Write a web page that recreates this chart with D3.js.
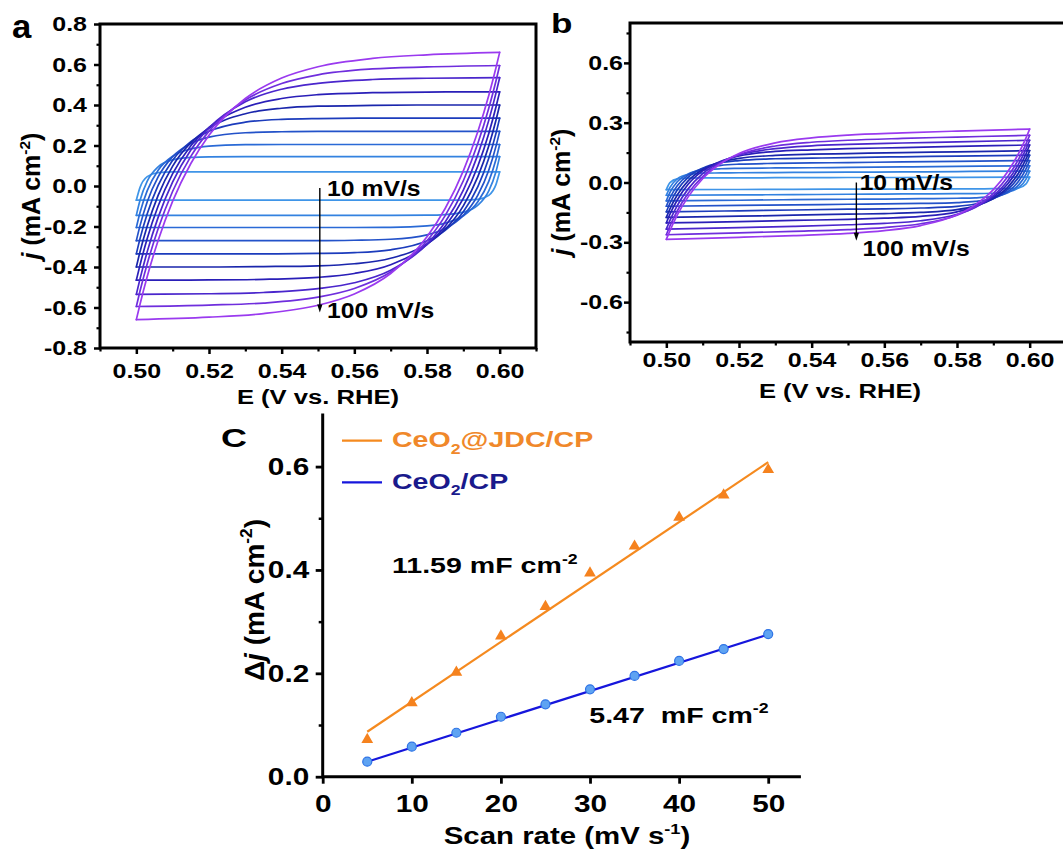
<!DOCTYPE html>
<html>
<head>
<meta charset="utf-8">
<script src="https://cdn.jsdelivr.net/npm/d3@7"></script>
<style>
  html, body { margin: 0; padding: 0; background: #fff; }
  svg { display: block; font-family: "Liberation Sans", Arial, Helvetica, sans-serif; }
</style>
</head>
<body>
<svg id="fig" width="1063" height="855"></svg>
<script>
// ---------- CV sweeps (panels a and b) ----------
const potentialDomain = [0.49, 0.61];
const potentialFwd = [0.500, 0.501, 0.503, 0.506, 0.510, 0.515, 0.520, 0.530, 0.540, 0.550, 0.565, 0.580, 0.600];
const potentialRev = [0.600, 0.599, 0.597, 0.594, 0.590, 0.585, 0.580, 0.570, 0.560, 0.550, 0.535, 0.520, 0.500];
const scanRatesCV = [10, 20, 30, 40, 50, 60, 70, 80, 90, 100];
const cvColors = ['#3f95e8', '#3382e0', '#2a6ad6', '#2352c9', '#1c3cbc', '#1a26ac', '#2a1fb8', '#4a26cc', '#6f2edd', '#9a3aef'];

// panel a: CeO2@JDC/CP, current density (mA cm^-2)
const cvA_anodic = [
  [-0.070, -0.008, 0.046, 0.066, 0.070, 0.070, 0.070, 0.070, 0.070, 0.070, 0.070, 0.070, 0.070],
  [-0.145, -0.072, 0.024, 0.095, 0.129, 0.141, 0.144, 0.145, 0.145, 0.145, 0.145, 0.145, 0.145],
  [-0.205, -0.132, -0.023, 0.078, 0.147, 0.183, 0.197, 0.204, 0.205, 0.205, 0.205, 0.205, 0.205],
  [-0.270, -0.197, -0.078, 0.045, 0.145, 0.210, 0.241, 0.263, 0.268, 0.270, 0.270, 0.270, 0.270],
  [-0.335, -0.261, -0.137, 0.003, 0.127, 0.219, 0.270, 0.315, 0.329, 0.333, 0.335, 0.335, 0.335],
  [-0.400, -0.326, -0.198, -0.046, 0.098, 0.214, 0.286, 0.357, 0.384, 0.394, 0.398, 0.400, 0.400],
  [-0.465, -0.391, -0.259, -0.099, 0.061, 0.199, 0.290, 0.389, 0.432, 0.451, 0.461, 0.464, 0.465],
  [-0.535, -0.460, -0.324, -0.155, 0.020, 0.178, 0.287, 0.416, 0.478, 0.507, 0.526, 0.532, 0.535],
  [-0.595, -0.520, -0.384, -0.211, -0.026, 0.146, 0.271, 0.425, 0.506, 0.549, 0.578, 0.588, 0.595],
  [-0.660, -0.585, -0.447, -0.269, -0.075, 0.111, 0.251, 0.432, 0.533, 0.589, 0.630, 0.648, 0.660]
];
const cvA_cathodic = [
  [0.070, 0.008, -0.046, -0.066, -0.070, -0.070, -0.070, -0.070, -0.070, -0.070, -0.070, -0.070, -0.070],
  [0.145, 0.072, -0.024, -0.095, -0.129, -0.141, -0.144, -0.145, -0.145, -0.145, -0.145, -0.145, -0.145],
  [0.205, 0.132, 0.023, -0.078, -0.147, -0.183, -0.197, -0.204, -0.205, -0.205, -0.205, -0.205, -0.205],
  [0.270, 0.197, 0.078, -0.045, -0.145, -0.210, -0.241, -0.263, -0.268, -0.270, -0.270, -0.270, -0.270],
  [0.335, 0.261, 0.137, -0.003, -0.127, -0.219, -0.270, -0.315, -0.329, -0.333, -0.335, -0.335, -0.335],
  [0.400, 0.326, 0.198, 0.046, -0.098, -0.214, -0.286, -0.357, -0.384, -0.394, -0.398, -0.400, -0.400],
  [0.465, 0.391, 0.259, 0.099, -0.061, -0.199, -0.290, -0.389, -0.432, -0.451, -0.461, -0.464, -0.465],
  [0.535, 0.460, 0.324, 0.155, -0.020, -0.178, -0.287, -0.416, -0.478, -0.507, -0.526, -0.532, -0.535],
  [0.595, 0.520, 0.384, 0.211, 0.026, -0.146, -0.271, -0.425, -0.506, -0.549, -0.578, -0.588, -0.595],
  [0.660, 0.585, 0.447, 0.269, 0.075, -0.111, -0.251, -0.432, -0.533, -0.589, -0.630, -0.648, -0.660]
];

// panel b: CeO2/CP
const cvB_anodic = [
  [-0.036, -0.001, 0.018, 0.022, 0.023, 0.023, 0.023, 0.024, 0.024, 0.025, 0.025, 0.026, 0.027],
  [-0.064, -0.024, 0.018, 0.040, 0.047, 0.048, 0.049, 0.050, 0.051, 0.052, 0.053, 0.055, 0.057],
  [-0.092, -0.050, 0.004, 0.043, 0.062, 0.069, 0.071, 0.073, 0.074, 0.076, 0.078, 0.081, 0.084],
  [-0.119, -0.077, -0.016, 0.037, 0.070, 0.086, 0.092, 0.096, 0.098, 0.100, 0.103, 0.106, 0.110],
  [-0.147, -0.104, -0.038, 0.026, 0.072, 0.099, 0.110, 0.119, 0.122, 0.125, 0.129, 0.132, 0.137],
  [-0.175, -0.132, -0.063, 0.008, 0.065, 0.103, 0.121, 0.136, 0.142, 0.145, 0.150, 0.154, 0.160],
  [-0.203, -0.159, -0.088, -0.009, 0.058, 0.106, 0.133, 0.156, 0.164, 0.170, 0.175, 0.181, 0.188],
  [-0.234, -0.190, -0.116, -0.032, 0.045, 0.103, 0.138, 0.170, 0.184, 0.191, 0.198, 0.204, 0.212],
  [-0.262, -0.218, -0.143, -0.054, 0.030, 0.098, 0.140, 0.183, 0.202, 0.212, 0.221, 0.228, 0.237],
  [-0.285, -0.241, -0.164, -0.072, 0.019, 0.095, 0.145, 0.199, 0.224, 0.238, 0.249, 0.258, 0.268]
];
const cvB_cathodic = [
  [0.027, -0.007, -0.027, -0.031, -0.031, -0.032, -0.032, -0.032, -0.033, -0.033, -0.034, -0.035, -0.036],
  [0.057, 0.017, -0.026, -0.047, -0.054, -0.056, -0.056, -0.057, -0.058, -0.059, -0.061, -0.062, -0.064],
  [0.084, 0.042, -0.012, -0.051, -0.070, -0.077, -0.079, -0.081, -0.083, -0.084, -0.086, -0.089, -0.092],
  [0.110, 0.068, 0.007, -0.046, -0.079, -0.095, -0.101, -0.105, -0.107, -0.109, -0.112, -0.115, -0.119],
  [0.137, 0.094, 0.028, -0.035, -0.082, -0.108, -0.120, -0.128, -0.132, -0.134, -0.138, -0.142, -0.147],
  [0.160, 0.118, 0.049, -0.023, -0.080, -0.117, -0.136, -0.150, -0.156, -0.159, -0.164, -0.169, -0.175],
  [0.188, 0.144, 0.073, -0.006, -0.073, -0.121, -0.147, -0.170, -0.179, -0.185, -0.190, -0.196, -0.203],
  [0.212, 0.169, 0.095, 0.010, -0.066, -0.125, -0.159, -0.192, -0.205, -0.212, -0.220, -0.226, -0.234],
  [0.237, 0.194, 0.118, 0.030, -0.054, -0.122, -0.164, -0.207, -0.226, -0.236, -0.245, -0.253, -0.262],
  [0.268, 0.224, 0.147, 0.055, -0.036, -0.112, -0.162, -0.216, -0.241, -0.255, -0.266, -0.275, -0.285]
];

const potentialTicks = [0.50, 0.52, 0.54, 0.56, 0.58, 0.60];
const potentialMinor = [0.49, 0.51, 0.53, 0.55, 0.57, 0.59, 0.61];
const jTicksA = [-0.8, -0.6, -0.4, -0.2, 0.0, 0.2, 0.4, 0.6, 0.8];
const jMinorA = [-0.7, -0.5, -0.3, -0.1, 0.1, 0.3, 0.5, 0.7];
const jTicksB = [-0.6, -0.3, 0.0, 0.3, 0.6];
const jMinorB = [-0.75, -0.45, -0.15, 0.15, 0.45, 0.75];

// ---------- double-layer capacitance (panel c) ----------
const scanRates = [5, 10, 15, 20, 25, 30, 35, 40, 45, 50];
const djJDC = [0.072, 0.143, 0.202, 0.272, 0.329, 0.394, 0.446, 0.502, 0.545, 0.594];
const djCeO2 = [0.029, 0.058, 0.085, 0.116, 0.140, 0.169, 0.195, 0.224, 0.247, 0.276];
const cdlJDC = 11.59, cdlCeO2 = 5.47;           // mF cm^-2
const offsetJDC = 0.029, offsetCeO2 = 0.0017;   // fit intercepts, mA cm^-2
const rateTicks = [0, 10, 20, 30, 40, 50];
const djTicks = [0.0, 0.2, 0.4, 0.6];
const djMinor = [0.1, 0.3, 0.5];

const svg = d3.select('#fig');
const FONT = '"Liberation Sans", Arial, Helvetica, sans-serif';

// text with optional italic / super- / subscript runs; sx widens glyphs horizontally
function addText(parent, x, y, parts, o) {
  const sx = o.sx || 1, size = o.size;
  const tf = o.rotate
    ? `translate(${x},${y}) rotate(-90) scale(1,${sx})`
    : `translate(${x},${y}) scale(${sx},1)`;
  const t = parent.append('text')
    .attr('transform', tf)
    .attr('font-family', FONT)
    .attr('font-size', size)
    .attr('font-weight', 'bold')
    .attr('text-anchor', o.anchor || 'start')
    .attr('fill', o.fill || '#000')
    .style('white-space', 'pre');
  let shift = 0;
  parts.forEach(p => {
    if (typeof p === 'string') p = { t: p };
    const target = p.sup ? -0.42 * size : p.sub ? 0.3 * size : 0;
    const ts = t.append('tspan').text(p.t);
    if (target !== shift) ts.attr('dy', target - shift);
    shift = target;
    if (p.sup || p.sub) ts.attr('font-size', size * 0.62);
    if (p.it) ts.attr('font-style', 'italic');
  });
  return t;
}

function styleAxis(g, size, sx, width) {
  g.select('.domain').remove();
  g.selectAll('line').attr('stroke', '#000').attr('stroke-width', width || 2.5);
  g.selectAll('text')
    .attr('font-family', FONT)
    .attr('font-size', size)
    .attr('font-weight', 'bold')
    .attr('fill', '#000')
    .each(function () {
      const t = d3.select(this);
      const x0 = +t.attr('x') || 0;
      t.attr('x', x0 / sx).attr('transform', `scale(${sx},1)`);
    });
}

function arrowDown(g, x, y1, y2) {
  g.append('line').attr('x1', x).attr('x2', x).attr('y1', y1).attr('y2', y2 - 6)
    .attr('stroke', '#000').attr('stroke-width', 1.4);
  g.append('path')
    .attr('d', `M${x - 2.6},${y2 - 8} L${x + 2.6},${y2 - 8} L${x},${y2} Z`)
    .attr('fill', '#000');
}

function drawCV(p) {
  const g = svg.append('g');
  const x = d3.scaleLinear().domain(potentialDomain).range([p.left, p.right]);
  const y = d3.scaleLinear().domain([-0.8, 0.8]).range([p.bottom, p.top]);

  const line = d3.line().x(d => x(d[0])).y(d => y(d[1])).curve(d3.curveMonotoneX);
  const curves = g.append('g').attr('fill', 'none').attr('stroke-width', 1.7)
    .attr('stroke-linejoin', 'round').attr('stroke-linecap', 'round');
  scanRatesCV.forEach((rate, i) => {
    const fwd = potentialFwd.map((e, k) => [e, p.anodic[i][k]]);
    const rev = potentialRev.map((e, k) => [e, p.cathodic[i][k]]).reverse();
    curves.append('path').attr('d', line(fwd)).attr('stroke', cvColors[i]);
    curves.append('path').attr('d', line(rev)).attr('stroke', cvColors[i]);
  });

  // axes
  const fs = 20.5, sx = 1.22;
  const yMin = g.append('g').attr('transform', `translate(${p.left},0)`)
    .call(d3.axisLeft(y).tickValues(p.yMinor).tickSize(3.5).tickFormat(() => ''));
  styleAxis(yMin, fs, sx, 2.2);
  const yMaj = g.append('g').attr('transform', `translate(${p.left},0)`)
    .call(d3.axisLeft(y).tickValues(p.yTicks).tickSize(6).tickPadding(p.yPad).tickFormat(d => d.toFixed(1)));
  styleAxis(yMaj, fs, sx, 2.5);
  const xMin = g.append('g').attr('transform', `translate(0,${p.bottom})`)
    .call(d3.axisBottom(x).tickValues(potentialMinor).tickSize(3.5).tickFormat(() => ''));
  styleAxis(xMin, fs, sx, 2.2);
  const xMaj = g.append('g').attr('transform', `translate(0,${p.bottom})`)
    .call(d3.axisBottom(x).tickValues(potentialTicks).tickSize(6).tickPadding(p.xPad).tickFormat(d => d.toFixed(2)));
  styleAxis(xMaj, fs, sx, 2.5);

  g.append('rect').attr('x', p.left).attr('y', p.top)
    .attr('width', p.right - p.left).attr('height', p.bottom - p.top)
    .attr('fill', 'none').attr('stroke', '#000').attr('stroke-width', 3);

  // titles
  addText(g, p.xTitleX, p.xTitleY, ['E (V vs. RHE)'], { size: 21, sx: 1.22, anchor: 'middle' });
  addText(g, p.yTitleX, p.yTitleY, [{ t: 'j', it: true }, ' (mA cm', { t: '-2', sup: true }, ')'],
    { size: 25, anchor: 'middle', rotate: true });
  addText(g, p.tagX, p.tagY, [p.tag], { size: p.tagSize, sx: p.tagSx });

  // scan-direction annotation
  arrowDown(g, x(p.arrowE), y(p.arrowFrom), y(p.arrowTo));
  addText(g, x(p.lblE1), y(p.lblJ1), ['10 mV/s'], { size: 21.5, sx: 1.15 });
  addText(g, x(p.lblE2), y(p.lblJ2), ['100 mV/s'], { size: 21.5, sx: 1.15 });
}

drawCV({
  left: 100, right: 536, top: 24, bottom: 348,
  anodic: cvA_anodic, cathodic: cvA_cathodic,
  yTicks: jTicksA, yMinor: jMinorA, yPad: 7, xPad: 9,
  xTitleX: 318, xTitleY: 404, yTitleX: 40, yTitleY: 196,
  tag: 'a', tagX: 12, tagY: 38, tagSize: 33, tagSx: 1.05,
  arrowE: 0.5505, arrowFrom: -0.01, arrowTo: -0.625,
  lblE1: 0.5525, lblJ1: -0.049, lblE2: 0.5525, lblJ2: -0.652
});

drawCV({
  left: 630, right: 1066, top: 23, bottom: 342,
  anodic: cvB_anodic, cathodic: cvB_cathodic,
  yTicks: jTicksB, yMinor: jMinorB, yPad: 1, xPad: 4.5,
  xTitleX: 840, xTitleY: 398, yTitleX: 570, yTitleY: 192,
  tag: 'b', tagX: 551, tagY: 33, tagSize: 27, tagSx: 1.3,
  arrowE: 0.5523, arrowFrom: 0.0, arrowTo: -0.292,
  lblE1: 0.5532, lblJ1: -0.038, lblE2: 0.554, lblJ2: -0.37
});

// ---------- panel c ----------
(function () {
  const g = svg.append('g');
  const x = d3.scaleLinear().domain([0, 53.5]).range([322.7, 799.4]);
  const y = d3.scaleLinear().domain([0, 0.7]).range([776.7, 414.9]);

  // axis lines (left and bottom only)
  g.append('path')
    .attr('d', `M${x(0)},${y(0.7)} L${x(0)},${y(0)} L${x(53.5)},${y(0)}`)
    .attr('fill', 'none').attr('stroke', '#000').attr('stroke-width', 3)
    .attr('stroke-linecap', 'square');

  const fs = 24, sx = 1.24;
  const yMin = g.append('g').attr('transform', `translate(${x(0)},0)`)
    .call(d3.axisLeft(y).tickValues(djMinor).tickSize(4).tickFormat(() => ''));
  styleAxis(yMin, fs, sx, 2.5);
  const yMaj = g.append('g').attr('transform', `translate(${x(0)},0)`)
    .call(d3.axisLeft(y).tickValues(djTicks).tickSize(7).tickPadding(6.5).tickFormat(d => d.toFixed(1)));
  styleAxis(yMaj, fs, sx, 2.8);
  const xMaj = g.append('g').attr('transform', `translate(0,${y(0)})`)
    .call(d3.axisBottom(x).tickValues(rateTicks).tickSize(7).tickPadding(11).tickFormat(d => d));
  styleAxis(xMaj, fs, sx, 2.8);

  // linear fits: slope from the stated capacitance (mF cm^-2 -> mA cm^-2 per mV s^-1)
  const fit = (c, b) => [[5, c * 5 / 1000 + b], [50, c * 50 / 1000 + b]];
  const ln = d3.line().x(d => x(d[0])).y(d => y(d[1]));
  g.append('path').attr('d', ln(fit(cdlJDC, offsetJDC)))
    .attr('stroke', '#f58a1f').attr('stroke-width', 2.2).attr('fill', 'none');
  g.append('path').attr('d', ln(fit(cdlCeO2, offsetCeO2)))
    .attr('stroke', '#1616dc').attr('stroke-width', 2.2).attr('fill', 'none');

  // measured points
  const tri = d3.symbol().type(d3.symbolTriangle).size(60);
  g.selectAll('.tri').data(scanRates).enter().append('path')
    .attr('transform', (d, i) => `translate(${x(d)},${y(djJDC[i])})`)
    .attr('d', tri).attr('fill', '#f5821e');
  g.selectAll('.dot').data(scanRates).enter().append('circle')
    .attr('cx', d => x(d)).attr('cy', (d, i) => y(djCeO2[i])).attr('r', 4.5)
    .attr('fill', '#5ea3f2').attr('stroke', '#2f74e6').attr('stroke-width', 1.2);

  // legend
  g.append('line').attr('x1', 342).attr('x2', 382).attr('y1', 440.7).attr('y2', 440.7)
    .attr('stroke', '#f58a1f').attr('stroke-width', 2.2);
  addText(g, 392, 447, ['CeO', { t: '2', sub: true }, '@JDC/CP'], { size: 22.5, sx: 1.27, fill: '#f0882a' });
  g.append('line').attr('x1', 342).attr('x2', 382).attr('y1', 482.3).attr('y2', 482.3)
    .attr('stroke', '#1616dc').attr('stroke-width', 2.2);
  addText(g, 392, 488.5, ['CeO', { t: '2', sub: true }, '/CP'], { size: 22.5, sx: 1.27, fill: '#1a1a8c' });

  // capacitance labels
  addText(g, 392, 573.3, [cdlJDC.toFixed(2) + ' mF cm', { t: '-2', sup: true }], { size: 22.5, sx: 1.27 });
  addText(g, 589.3, 722.7, [cdlCeO2.toFixed(2) + '\u00a0 mF cm', { t: '-2', sup: true }], { size: 22.5, sx: 1.27 });

  // titles
  addText(g, 567, 844, ['Scan rate (mV s', { t: '-1', sup: true }, ')'], { size: 24.5, sx: 1.2, anchor: 'middle' });
  addText(g, 264, 600, ['Δ', { t: 'j', it: true }, ' (mA cm', { t: '-2', sup: true }, ')'],
    { size: 28, anchor: 'middle', rotate: true });
  addText(g, 221, 447, ['C'], { size: 26, sx: 1.38 });
})();
</script>
</body>
</html>
